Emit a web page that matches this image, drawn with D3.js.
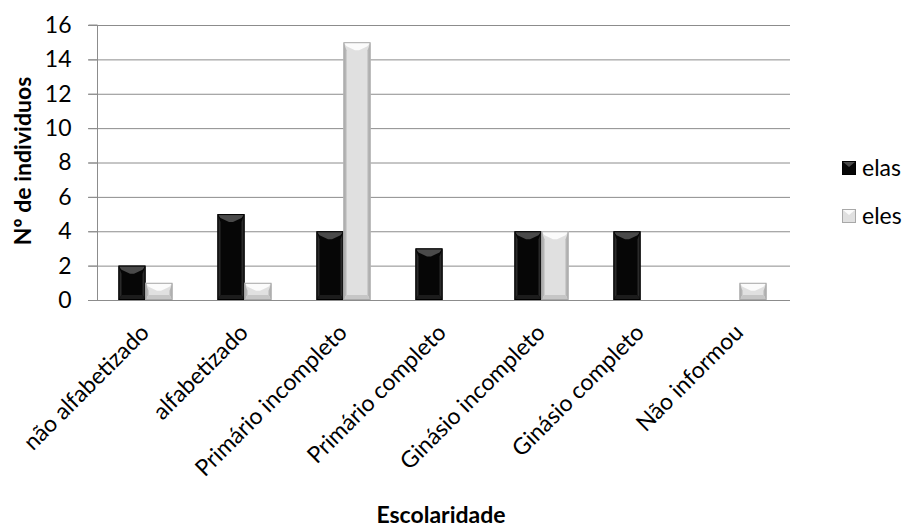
<!DOCTYPE html>
<html><head><meta charset="utf-8">
<script src="https://cdn.jsdelivr.net/npm/d3@7"></script>
<style>body{margin:0;background:#fff}svg{display:block}text{font-family:Lato,"Open Sans",sans-serif;fill:#000}</style>
</head><body><svg id="c" width="907" height="529"></svg>
<script>
const categories = ["não alfabetizado","alfabetizado","Primário incompleto","Primário completo","Ginásio incompleto","Ginásio completo","Não informou"];
const seriesNames = ["elas","eles"];
const elas = [2,5,4,3,4,4,0];
const eles = [1,1,15,0,4,0,1];
const yTicks = [0,2,4,6,8,10,12,14,16];

const svg = d3.select("#c");
const L=97, R=790, T=25, B=300;
const FS = 23;
const x0 = d3.scaleBand().domain(categories).range([L,R]);
const x1 = d3.scaleBand().domain(seriesNames).range([0,54]);
const y = d3.scaleLinear().domain([0,16]).range([B,T]);

// gridlines
svg.append("g").selectAll("line").data(yTicks).join("line")
  .attr("x1",88).attr("x2",R).attr("y1",d=>y(d)+0.5).attr("y2",d=>y(d)+0.5)
  .attr("stroke","#8c8c8c").attr("stroke-width",1);
// y axis
const ya = svg.append("g").attr("transform",`translate(${L+0.5},0)`)
  .call(d3.axisLeft(y).tickValues(yTicks).tickSize(9).tickPadding(17));
ya.select(".domain").attr("stroke","#8c8c8c").attr("d",`M-9,${T}H0V${B}`);
ya.selectAll(".tick line").attr("stroke","#8c8c8c");
ya.selectAll("text").attr("font-size",FS).style("font-family","Lato,sans-serif").attr("fill","#000");

const styles = {
  elas:{main:"#060606", top:"#4a4a4a", side:"#2a2a2a", bot:"#1c1c1c", edge:"#000"},
  eles:{main:"#e0e0e0", top:"#fbfbfb", side:"#b5b5b5", bot:"#c6c6c6", edge:"#a8a8a8"}
};
const data = [];
categories.forEach((c,i)=>{ data.push({c,s:"elas",v:elas[i]}); data.push({c,s:"eles",v:eles[i]}); });

const bars = svg.append("g");
data.filter(d=>d.v>0).forEach(d=>{
  const x = x0(d.c) + (x0.bandwidth()-54)/2 - 1 + x1(d.s);
  const w = x1.bandwidth();
  const yt = y(d.v), h = B - yt;
  const st = styles[d.s];
  const g = bars.append("g");
  const dd = Math.min(8, h/2), s = 3, bb = Math.min(5,h/3);
  g.append("rect").attr("x",x).attr("y",yt).attr("width",w).attr("height",h).attr("fill",st.main);
  g.append("polygon").attr("points",[[x,yt],[x+s,yt+dd],[x+s,B-bb],[x,B]].join(" ")).attr("fill",st.side);
  g.append("polygon").attr("points",[[x+w,yt],[x+w-s,yt+dd],[x+w-s,B-bb],[x+w,B]].join(" ")).attr("fill",st.side);
  g.append("polygon").attr("points",[[x,yt],[x+w,yt],[x+w-s,yt+dd*0.5],[x+w/2+2,yt+dd],[x+w/2-2,yt+dd],[x+s,yt+dd*0.5]].join(" ")).attr("fill",st.top);
  g.append("polygon").attr("points",[[x,B],[x+w,B],[x+w-s,B-bb],[x+s,B-bb]].join(" ")).attr("fill",st.bot);
  g.append("rect").attr("x",x+0.5).attr("y",yt+0.5).attr("width",w-1).attr("height",h-1).attr("fill","none").attr("stroke",st.edge).attr("stroke-width",1);
});

// x axis line
svg.append("line").attr("x1",88).attr("x2",R).attr("y1",B+0.5).attr("y2",B+0.5).attr("stroke","#8c8c8c");

// x labels
svg.append("g").selectAll("text").data(categories).join("text")
  .attr("transform",d=>`translate(${x0(d)+x0.bandwidth()/2+4},${B+34}) rotate(-45)`)
  .attr("text-anchor","end").attr("font-size",FS).text(d=>d);

// axis titles
svg.append("text").attr("transform",`translate(31,161) rotate(-90)`).attr("text-anchor","middle")
  .attr("font-size",FS).attr("font-weight","bold").text("Nº de individuos");
svg.append("text").attr("x",441).attr("y",523).attr("text-anchor","middle")
  .attr("font-size",FS).attr("font-weight","bold").text("Escolaridade");

// legend
const lg = svg.append("g");
seriesNames.forEach((s,i)=>{
  const ly = 161 + i*48, st = styles[s];
  lg.append("rect").attr("x",842.5).attr("y",ly+0.5).attr("width",13).attr("height",13).attr("fill",st.main).attr("stroke",st.edge);
  lg.append("polygon").attr("points",[[843,ly+1],[855,ly+1],[849,ly+6]].join(" ")).attr("fill",st.top);
  lg.append("text").attr("x",862).attr("y",ly+15).attr("font-size",FS).text(s);
});
</script></body></html>
